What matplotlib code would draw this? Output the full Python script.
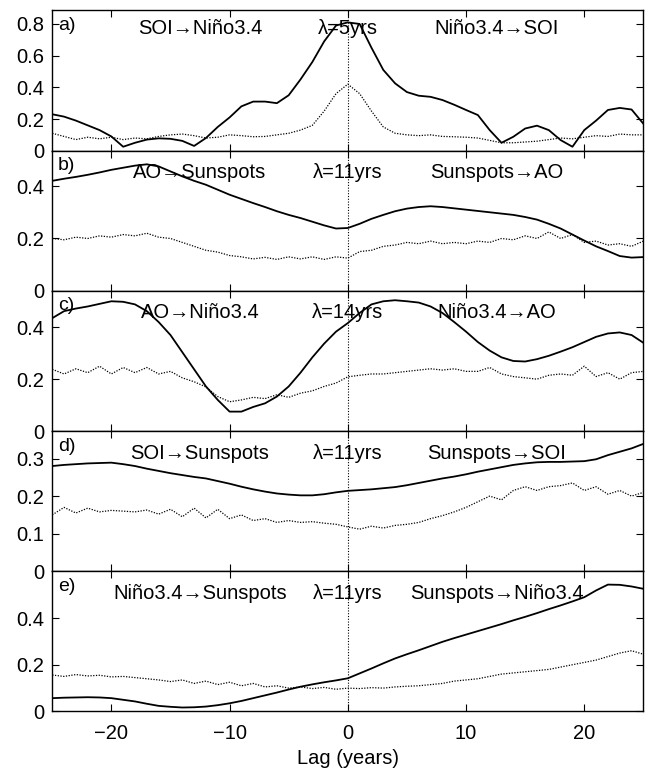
import numpy as np
import matplotlib.pyplot as plt

plt.rcParams['font.family'] = ['Liberation Sans', 'DejaVu Sans']
plt.rcParams['font.size'] = 14

# lag axis (years)
lag = np.arange(-25, 26)

# a) SOI / Nino3.4, lambda = 5 yrs
a_solid = [0.23, 0.215, 0.19, 0.16, 0.13, 0.09, 0.025, 0.05, 0.07, 0.078,
           0.075, 0.062, 0.03, 0.08, 0.15, 0.21, 0.28, 0.31, 0.31, 0.30,
           0.35, 0.45, 0.56, 0.69, 0.79, 0.81, 0.80, 0.65, 0.51, 0.425,
           0.37, 0.347, 0.34, 0.32, 0.29, 0.257, 0.225, 0.13, 0.05, 0.088,
           0.14, 0.158, 0.13, 0.067, 0.025, 0.13, 0.19, 0.257, 0.27, 0.26,
           0.17]
a_dot = [0.11, 0.09, 0.07, 0.085, 0.075, 0.085, 0.07, 0.08, 0.075, 0.09,
         0.1, 0.105, 0.095, 0.08, 0.085, 0.1, 0.095, 0.088, 0.09, 0.1,
         0.11, 0.13, 0.16, 0.25, 0.36, 0.42, 0.36, 0.25, 0.15, 0.11,
         0.1, 0.095, 0.1, 0.09, 0.088, 0.085, 0.08, 0.065, 0.05, 0.05,
         0.055, 0.06, 0.07, 0.08, 0.075, 0.085, 0.095, 0.09, 0.105, 0.1,
         0.1]

# b) AO / Sunspots, lambda = 11 yrs
b_solid = [0.42, 0.428, 0.435, 0.443, 0.452, 0.462, 0.47, 0.478, 0.483, 0.475,
           0.456, 0.437, 0.42, 0.405, 0.386, 0.367, 0.351, 0.335, 0.32, 0.304,
           0.29, 0.278, 0.264, 0.25, 0.238, 0.24, 0.256, 0.275, 0.29, 0.304,
           0.314, 0.32, 0.323, 0.32, 0.315, 0.31, 0.305, 0.30, 0.295, 0.29,
           0.282, 0.272, 0.256, 0.238, 0.215, 0.192, 0.17, 0.152, 0.133, 0.127,
           0.129]
b_dot = [0.2, 0.195, 0.205, 0.2, 0.21, 0.205, 0.215, 0.21, 0.22, 0.205,
         0.2, 0.185, 0.17, 0.155, 0.148, 0.135, 0.13, 0.122, 0.128, 0.12,
         0.13, 0.122, 0.13, 0.12, 0.13, 0.125, 0.15, 0.155, 0.17, 0.175,
         0.185, 0.18, 0.19, 0.18, 0.185, 0.18, 0.19, 0.185, 0.2, 0.195,
         0.21, 0.2, 0.225, 0.2, 0.215, 0.185, 0.19, 0.175, 0.18, 0.17,
         0.19]

# c) AO / Nino3.4, lambda = 14 yrs
c_solid = [0.435, 0.462, 0.472, 0.48, 0.49, 0.50, 0.498, 0.488, 0.462, 0.42,
           0.37, 0.304, 0.238, 0.172, 0.12, 0.075, 0.075, 0.093, 0.107, 0.133,
           0.172, 0.225, 0.284, 0.337, 0.383, 0.416, 0.455, 0.488, 0.50, 0.504,
           0.50, 0.495, 0.48, 0.455, 0.42, 0.383, 0.343, 0.31, 0.284, 0.27,
           0.268, 0.277, 0.29, 0.306, 0.323, 0.343, 0.363, 0.376, 0.38, 0.37,
           0.34]
c_dot = [0.238, 0.22, 0.24, 0.225, 0.25, 0.22, 0.245, 0.225, 0.245, 0.22,
         0.23, 0.205, 0.19, 0.17, 0.133, 0.113, 0.12, 0.13, 0.125, 0.14,
         0.13, 0.146, 0.155, 0.172, 0.185, 0.209, 0.215, 0.22, 0.22, 0.225,
         0.23, 0.235, 0.24, 0.235, 0.24, 0.23, 0.23, 0.245, 0.22, 0.21,
         0.205, 0.2, 0.215, 0.22, 0.215, 0.25, 0.21, 0.225, 0.2, 0.225,
         0.23]

# d) SOI / Sunspots, lambda = 11 yrs
d_solid = [0.28, 0.283, 0.285, 0.287, 0.288, 0.289, 0.285, 0.28, 0.273, 0.267,
           0.261, 0.256, 0.251, 0.247, 0.24, 0.233, 0.225, 0.218, 0.212, 0.207,
           0.204, 0.202, 0.202, 0.205, 0.21, 0.214, 0.216, 0.218, 0.221, 0.224,
           0.229, 0.235, 0.241, 0.247, 0.252, 0.258, 0.265, 0.271, 0.277, 0.283,
           0.287, 0.29, 0.291, 0.291, 0.292, 0.293, 0.298, 0.309, 0.318, 0.327,
           0.339]
d_dot = [0.15, 0.17, 0.155, 0.168, 0.158, 0.162, 0.16, 0.158, 0.163, 0.152,
         0.165, 0.145, 0.168, 0.142, 0.165, 0.14, 0.15, 0.135, 0.14, 0.13,
         0.135, 0.13, 0.132, 0.128, 0.125, 0.118, 0.112, 0.12, 0.115, 0.122,
         0.125, 0.13, 0.14, 0.148, 0.158, 0.17, 0.185, 0.2, 0.19, 0.215,
         0.225, 0.215, 0.225, 0.228, 0.235, 0.215, 0.225, 0.205, 0.215, 0.2,
         0.21]

# e) Nino3.4 / Sunspots, lambda = 11 yrs
e_solid = [0.057, 0.059, 0.06, 0.061, 0.06, 0.057, 0.05, 0.043, 0.033, 0.024,
           0.02, 0.017, 0.018, 0.021, 0.027, 0.035, 0.045, 0.057, 0.069, 0.081,
           0.094, 0.106, 0.116, 0.125, 0.133, 0.142, 0.163, 0.184, 0.206, 0.227,
           0.245, 0.262, 0.28, 0.298, 0.314, 0.329, 0.344, 0.359, 0.374, 0.39,
           0.405, 0.421, 0.438, 0.454, 0.471, 0.489, 0.518, 0.543, 0.542, 0.535,
           0.525]
e_dot = [0.156, 0.15, 0.158, 0.152, 0.155, 0.148, 0.15, 0.145, 0.14, 0.135,
         0.128, 0.135, 0.12, 0.13, 0.115, 0.125, 0.11, 0.12, 0.105, 0.11,
         0.1, 0.105, 0.098, 0.103, 0.095, 0.1, 0.098, 0.102, 0.1, 0.105,
         0.108, 0.11, 0.115, 0.12, 0.13, 0.135, 0.14, 0.15, 0.16, 0.165,
         0.17, 0.175, 0.18, 0.19, 0.2, 0.21, 0.22, 0.235, 0.25, 0.26,
         0.245]

panels = [
    ('a)', a_solid, a_dot, 0.885, [0, 0.2, 0.4, 0.6, 0.8],
     ['SOI\u2192Niño3.4', '\u03bb=5yrs', 'Niño3.4\u2192SOI'], 0.874),
    ('b)', b_solid, b_dot, 0.535, [0, 0.2, 0.4],
     ['AO\u2192Sunspots', '\u03bb=11yrs', 'Sunspots\u2192AO'], 0.843),
    ('c)', c_solid, c_dot, 0.54, [0, 0.2, 0.4],
     ['AO\u2192Niño3.4', '\u03bb=14yrs', 'Niño3.4\u2192AO'], 0.843),
    ('d)', d_solid, d_dot, 0.373, [0, 0.1, 0.2, 0.3],
     ['SOI\u2192Sunspots', '\u03bb=11yrs', 'Sunspots\u2192SOI'], 0.843),
    ('e)', e_solid, e_dot, 0.6, [0, 0.2, 0.4],
     ['Niño3.4\u2192Sunspots', '\u03bb=11yrs', 'Sunspots\u2192Niño3.4'], 0.843),
]

fig = plt.figure(figsize=(6.45, 7.72), dpi=100)
left, width = 0.081, 0.9165
h = 0.1816
bottom0 = 0.0784

for i, (lab, solid, dot, ytop, yt, texts, ty) in enumerate(panels):
    ax = fig.add_axes([left, bottom0 + (4 - i) * h, width, h])
    ax.plot(lag, solid, color='black', lw=1.3)
    ax.plot(lag, dot, color='black', lw=0.9, ls=(0, (1, 1.2)))
    ax.axvline(0, color='black', lw=0.8, ls=(0, (1, 1.5)))
    ax.set_xlim(-25, 25)
    ax.set_ylim(0, ytop)
    ax.set_xticks([-20, -10, 0, 10, 20])
    ax.set_yticks(yt)
    ax.set_yticklabels(['0' if v == 0 else ('%g' % v) for v in yt])
    ax.tick_params(direction='in', top=True, right=True, length=5, width=0.8,
                   labelsize=14.5)
    ax.tick_params(axis='y', pad=6)
    ax.tick_params(axis='x', pad=9)
    for s in ax.spines.values():
        s.set_linewidth(1.0)
    if i < 4:
        ax.set_xticklabels([])
    else:
        ax.set_xticklabels(['\u221220', '\u221210', '0', '10', '20'])
        ax.set_xlabel('Lag (years)', labelpad=4, fontsize=14.5)
    ax.text(0.01, 0.893, lab, transform=ax.transAxes, ha='left', va='center')
    for xpos, t in zip([-12.5, 0, 12.6], texts):
        ax.text(xpos, ty, t, transform=ax.get_xaxis_transform(),
                ha='center', va='center', fontsize=14.5)

fig.savefig('out.png', dpi=100)
